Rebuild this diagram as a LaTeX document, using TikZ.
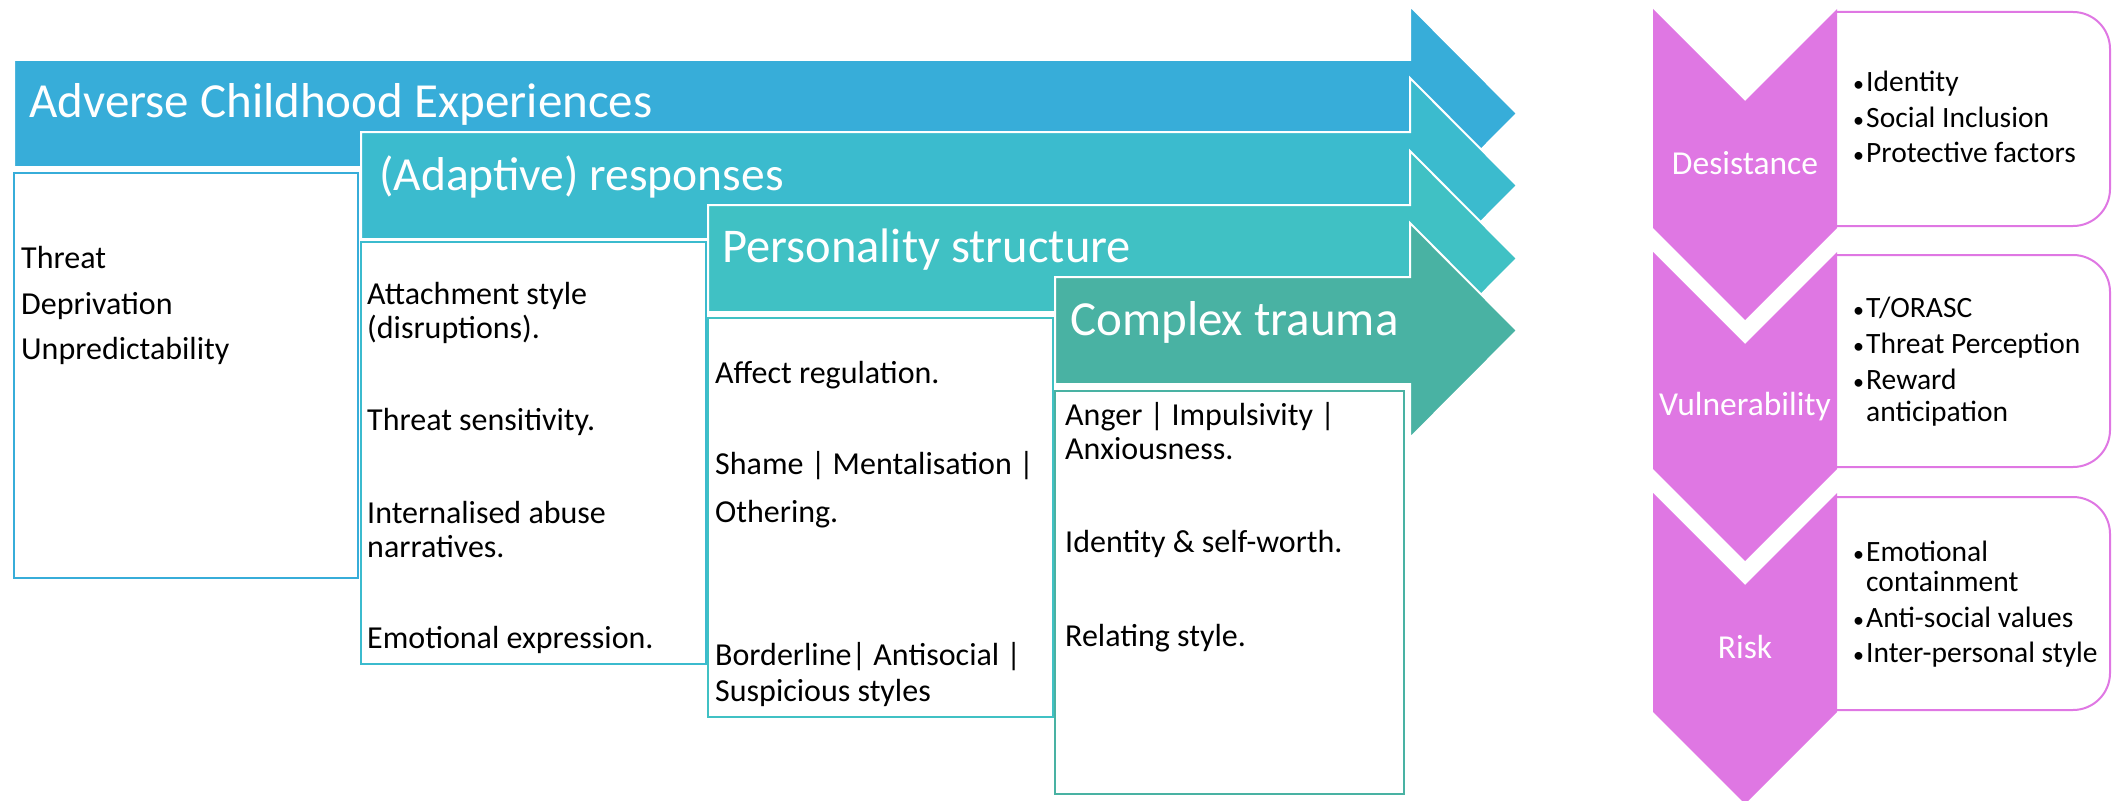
\documentclass[tikz,border=0pt]{standalone}
\usepackage{fontspec}
\setmainfont{Carlito}
\definecolor{cA}{RGB}{55,173,217}
\definecolor{cB}{RGB}{59,187,206}
\definecolor{cC}{RGB}{64,193,196}
\definecolor{cD}{RGB}{73,178,163}
\definecolor{pk}{RGB}{223,119,227}
\begin{document}
\begin{tikzpicture}[x=1pt,y=-1pt,
  arr/.style={draw=white, line width=2pt, line join=miter},
  box/.style={fill=white, line width=2pt},
  txt/.style={anchor=base west, inner sep=0pt, font=\fontsize{32}{32}\selectfont},
  hd/.style={anchor=base west, inner sep=0pt, text=white},
  rtx/.style={anchor=base west, inner sep=0pt, font=\fontsize{29.5}{29.5}\selectfont},
  bul/.style={anchor=base west, inner sep=0pt, font=\fontsize{22}{22}\selectfont},
  chl/.style={anchor=base, inner sep=0pt, text=white, font=\fontsize{33.5}{33.5}\selectfont},
  rbox/.style={draw=pk, line width=2pt, fill=white, rounded corners=37pt}]
\useasboundingbox (0,0) rectangle (2116,800);
% arrows
\path[arr, fill=cA] (14,60) -- (1410,60) -- (1410,6) -- (1517,113.5) -- (1410,221) -- (1410,167) -- (14,167) -- cycle;
\path[arr, fill=cB] (361,132) -- (1410,132) -- (1410,78) -- (1517,185.5) -- (1410,293) -- (1410,239) -- (361,239) -- cycle;
\path[arr, fill=cC] (708,205) -- (1410,205) -- (1410,151) -- (1517,258.5) -- (1410,366) -- (1410,312) -- (708,312) -- cycle;
\path[arr, fill=cD] (1055,277) -- (1410,277) -- (1410,223) -- (1517,330.5) -- (1410,438) -- (1410,384) -- (1055,384) -- cycle;
% boxes
\draw[box, draw=cA] (14,173) rectangle (358,578);
\draw[box, draw=cB] (361,242) rectangle (706,664);
\draw[box, draw=cC] (708,318) rectangle (1053,717);
\draw[box, draw=cD] (1055,391) rectangle (1404,794);
% headings
\node[hd, font=\fontsize{49}{49}\selectfont] (h1) at (29,117) {Adverse Childhood Experiences};
\node[hd, font=\fontsize{47.5}{47.5}\selectfont] (h2) at (379,190) {(Adaptive) responses};
\node[hd, font=\fontsize{48.5}{48.5}\selectfont] (h3) at (722,262) {Personality structure};
\node[hd, font=\fontsize{49}{49}\selectfont] (h4) at (1070,335) {Complex trauma};
% box 1
\node[txt] (t11) at (21,268) {Threat};
\node[txt] (t12) at (21,314) {Deprivation};
\node[txt] (t13) at (21,359) {Unpredictability};
% box 2
\node[txt] (t21) at (367,304) {Attachment style};
\node[txt] (t22) at (367,338) {(disruptions).};
\node[txt] (t23) at (367,430) {Threat sensitivity.};
\node[txt] (t24) at (367,523) {Internalised abuse};
\node[txt] (t25) at (367,557) {narratives.};
\node[txt] (t26) at (367,648) {Emotional expression.};
% box 3
\node[txt] (t31) at (715,383) {Affect regulation.};
\node[txt] (t32) at (715,474) {Shame | Mentalisation |};
\node[txt] (t33) at (715,522) {Othering.};
\node[txt] (t34) at (715,665) {Borderline| Antisocial |};
\node[txt] (t35) at (715,701) {Suspicious styles};
% box 4
\node[txt] (t41) at (1065,425) {Anger | Impulsivity |};
\node[txt] (t42) at (1065,459) {Anxiousness.};
\node[txt] (t43) at (1065,552) {Identity \& self-worth.};
\node[txt] (t44) at (1065,646) {Relating style.};
% right boxes
\path[rbox] (1837,12) -- (2110,12) -- (2110,226) -- (1837,226);
\path[rbox] (1837,255) -- (2110,255) -- (2110,467) -- (1837,467);
\path[rbox] (1837,497) -- (2110,497) -- (2110,710) -- (1837,710);
% chevrons
\fill[pk] (1653,9) -- (1745,101) -- (1837,9) -- (1837,228) -- (1745,320) -- (1653,228) -- cycle;
\fill[pk] (1653,252) -- (1745,344) -- (1837,252) -- (1837,469) -- (1745,561) -- (1653,469) -- cycle;
\fill[pk] (1653,493) -- (1745,585) -- (1837,493) -- (1837,712) -- (1745,804) -- (1653,712) -- cycle;
\node[chl] (c1) at (1745,174) {Desistance};
\node[chl] (c2) at (1745,415) {Vulnerability};
\node[chl] (c3) at (1745,658) {Risk};
% right texts
\node[bul] (b11) at (1853,91) {•};
\node[rtx] (r11) at (1866,91) {Identity};
\node[bul] (b12) at (1853,127) {•};
\node[rtx] (r12) at (1866,127) {Social Inclusion};
\node[bul] (b13) at (1853,162) {•};
\node[rtx] (r13) at (1866,162) {Protective factors};
\node[bul] (b21) at (1853,317) {•};
\node[rtx] (r21) at (1866,317) {T/ORASC};
\node[bul] (b22) at (1853,353) {•};
\node[rtx] (r22) at (1866,353) {Threat Perception};
\node[bul] (b23) at (1853,389) {•};
\node[rtx] (r23) at (1866,389) {Reward};
\node[rtx] (r24) at (1866,421) {anticipation};
\node[bul] (b31) at (1853,561) {•};
\node[rtx] (r31) at (1866,561) {Emotional};
\node[rtx] (r32) at (1866,591) {containment};
\node[bul] (b32) at (1853,627) {•};
\node[rtx] (r33) at (1866,627) {Anti-social values};
\node[bul] (b33) at (1853,662) {•};
\node[rtx] (r34) at (1866,662) {Inter-personal style};
\end{tikzpicture}
\end{document}
